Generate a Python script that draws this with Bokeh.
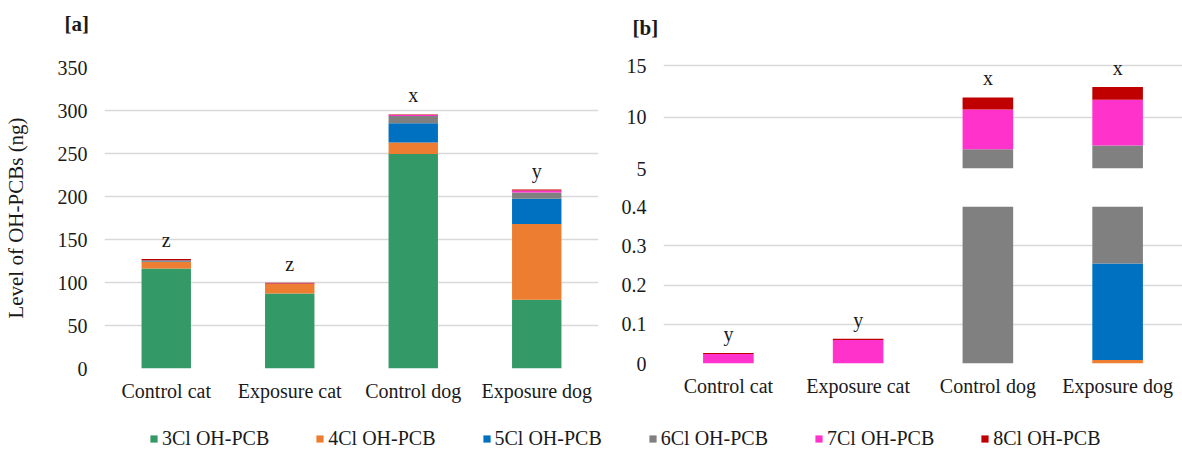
from bokeh.plotting import figure
from bokeh.models import FactorRange, Range1d, FixedTicker, Legend, LegendItem
from bokeh.layouts import row, column
from bokeh.core.properties import value
from bokeh.embed import file_html
from bokeh.resources import INLINE

# ---- data -------------------------------------------------------------
groups = ["Control cat", "Exposure cat", "Control dog", "Exposure dog"]
series = ["3Cl OH-PCB", "4Cl OH-PCB", "5Cl OH-PCB", "6Cl OH-PCB", "7Cl OH-PCB", "8Cl OH-PCB"]
colors = ["#339966", "#ED7D31", "#0070C0", "#808080", "#FF33CC", "#C00000"]

# [a] total OH-PCBs (ng)
a_3cl = [116.3, 87.2, 249.3, 79.9]
a_4cl = [8.1, 11.0, 13.5, 88.0]
a_5cl = [0.7, 0.2, 22.5, 29.4]
a_6cl = [0.7, 0.2, 8.2, 7.4]
a_7cl = [0.1, 0.1, 1.3, 2.4]
a_8cl = [1.4, 1.0, 0.6, 0.9]
a_letters = ["z", "z", "x", "y"]

# [b] broken-axis panel (ng)
b_3cl = [0.0, 0.0, 0.0, 0.0]
b_4cl = [0.0, 0.0, 0.0, 0.009]
b_5cl = [0.0, 0.0, 0.0, 0.246]
b_6cl = [0.0, 0.0, 6.88, 6.985]
b_7cl = [0.024, 0.06, 3.87, 4.45]
b_8cl = [0.0025, 0.003, 1.17, 1.26]
b_letters = ["y", "y", "x", "x"]

a_ticks = [0, 50, 100, 150, 200, 250, 300, 350]
b_upper_ticks = [5, 10, 15]
b_lower_ticks = [0, 0.1, 0.2, 0.3, 0.4]

FONT = "Liberation Serif"
TXT = "#1a1a1a"
GRID = "#D9D9D9"

a_cols = [a_3cl, a_4cl, a_5cl, a_6cl, a_7cl, a_8cl]
b_cols = [b_3cl, b_4cl, b_5cl, b_6cl, b_7cl, b_8cl]


def segments(cols, lo, hi):
    """Stacked segments (group, bottom, top, colour) that reach into [lo, hi]."""
    seg = {"group": [], "bottom": [], "top": [], "color": []}
    for gi, g in enumerate(groups):
        base = 0.0
        for si, vals in enumerate(cols):
            b0, b1 = base, base + vals[gi]
            base = b1
            if b1 <= b0 or b1 <= lo or b0 >= hi:
                continue
            seg["group"].append(g)
            seg["bottom"].append(b0)
            seg["top"].append(b1)
            seg["color"].append(colors[si])
    return seg


def totals(cols):
    return [sum(v) for v in zip(*cols)]


def style(p, show_x):
    p.outline_line_color = None
    p.xgrid.grid_line_color = None
    p.ygrid.grid_line_color = GRID
    p.ygrid.grid_line_width = 1.3
    for ax in p.yaxis:
        ax.axis_line_color = None
        ax.major_tick_line_color = None
        ax.minor_tick_line_color = None
        ax.major_tick_out = 0
        ax.major_label_text_font = FONT
        ax.major_label_text_font_size = "20px"
        ax.major_label_text_color = TXT
        ax.major_label_standoff = 17
    for ax in p.xaxis:
        ax.visible = show_x
        ax.axis_line_color = None
        ax.major_tick_line_color = None
        ax.major_tick_out = 0
        ax.major_label_text_font = FONT
        ax.major_label_text_font_size = "20px"
        ax.major_label_text_color = TXT
        ax.major_label_standoff = 11


def draw(p, cols, letters, width, lo, hi):
    p.vbar(x="group", bottom="bottom", top="top", width=width, fill_color="color",
           line_width=0, line_color=None, source=segments(cols, lo, hi))
    # significance letters for the bars whose top falls inside this y range
    tot = totals(cols)
    keep = [i for i, t in enumerate(tot) if lo <= t <= hi]
    p.text(x=[groups[i] for i in keep], y=[tot[i] for i in keep],
           text=[letters[i] for i in keep],
           text_font=value(FONT), text_font_size="20px", text_color=TXT,
           text_align="center", text_baseline="alphabetic", y_offset=-19)


def header(width, text, offset, standoff):
    """Thin strip above a panel carrying its bold panel tag as a title."""
    h = figure(width=width, height=46, x_range=Range1d(0, 1), y_range=Range1d(0, 1),
               output_backend="svg", toolbar_location=None, min_border_top=42,
               min_border_bottom=0, min_border_left=0, min_border_right=0)
    h.axis.visible = False
    h.grid.visible = False
    h.outline_line_color = None
    h.title.text = text
    h.title.align = "left"
    h.title.offset = offset
    h.title.standoff = standoff
    h.title.text_font = FONT
    h.title.text_font_size = "21px"
    h.title.text_font_style = "bold"
    h.title.text_color = TXT
    return h


# ---- panel [a] --------------------------------------------------------
ha = header(600, "[a]", -40, 14)
pa = figure(width=600, height=362, x_range=FactorRange(*groups, range_padding=0),
            y_range=Range1d(0, 350), output_backend="svg", toolbar_location=None,
            min_border_left=102, min_border_right=2, min_border_top=21,
            min_border_bottom=40)
draw(pa, a_cols, a_letters, 0.4, 0, 350)
style(pa, True)
pa.yaxis.ticker = FixedTicker(ticks=a_ticks)
pa.yaxis.axis_label = "Level of OH-PCBs (ng)"
pa.yaxis.axis_label_text_font = FONT
pa.yaxis.axis_label_text_font_size = "21px"
pa.yaxis.axis_label_text_font_style = "normal"
pa.yaxis.axis_label_text_color = TXT
pa.yaxis.axis_label_standoff = 27

# ---- panel [b], upper segment -----------------------------------------
hb = header(582, "[b]", -31, 6)
pb_top = figure(width=582, height=134, x_range=FactorRange(*groups, range_padding=0),
                y_range=Range1d(5, 16.5), output_backend="svg", toolbar_location=None,
                min_border_left=63, min_border_right=0, min_border_top=4,
                min_border_bottom=12)
draw(pb_top, b_cols, b_letters, 0.39, 5, 16.5)
style(pb_top, False)
pb_top.yaxis.ticker = FixedTicker(ticks=b_upper_ticks)

# ---- panel [b], lower segment -----------------------------------------
pb_bot = figure(width=582, height=228, x_range=pb_top.x_range,
                y_range=Range1d(0, 0.4), output_backend="svg", toolbar_location=None,
                min_border_left=63, min_border_right=0, min_border_top=26,
                min_border_bottom=45)
draw(pb_bot, b_cols, b_letters, 0.39, 0, 0.4)
style(pb_bot, True)
pb_bot.yaxis.ticker = FixedTicker(ticks=b_lower_ticks)
pb_bot.yaxis.major_label_overrides = {0: "0"}

# ---- shared legend ----------------------------------------------------
pl = figure(width=1182, height=43, x_range=Range1d(0, 1), y_range=Range1d(0, 1),
            output_backend="svg", toolbar_location=None, min_border=0)
pl.axis.visible = False
pl.grid.visible = False
pl.outline_line_color = None
items = []
for name, c in zip(series, colors):
    # swatch renderers parked outside the visible range; only the legend shows them
    r = pl.vbar(x=[5], top=[5], bottom=[4], width=0.1, fill_color=c, line_color=None)
    items.append(LegendItem(label=name, renderers=[r]))
leg = Legend(items=items, orientation="horizontal", location=(149, 1),
             padding=0, margin=0, spacing=46, label_standoff=4,
             glyph_width=9, glyph_height=9, label_text_font=FONT,
             label_text_font_size="20px", label_text_color=TXT,
             border_line_color=None, background_fill_alpha=0)
pl.add_layout(leg)

layout = column(row(column(ha, pa), column(hb, pb_top, pb_bot)), pl)
open("out.html", "w").write(file_html(layout, INLINE))
